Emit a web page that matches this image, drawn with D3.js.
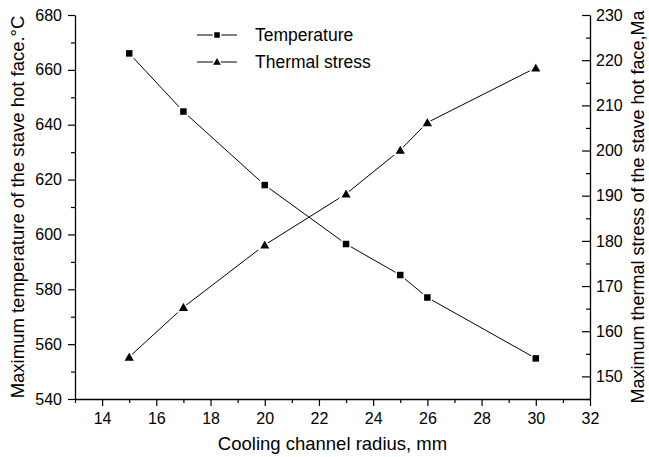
<!DOCTYPE html>
<html lang="en">
<head>
  <meta charset="UTF-8" />
  <script src="https://d3js.org/d3.v7.min.js"></script>
  <title>Cooling channel radius</title>
  <style>
    body { margin: 0; background: #fff; }
    text { font-family: Arial, "Liberation Sans", sans-serif; fill: #000; }
  </style>
</head>
<body>
<script type="text/javascript">
	// data
	var radius = [15, 17, 20, 23, 25, 26, 30];
	var temperature = [666, 644.8, 618, 596.5, 585.2, 577, 554.8];
	var stress = [154.3, 165.3, 179.1, 190.4, 200.1, 206.2, 218.3];
	var xTicks = [14, 16, 18, 20, 22, 24, 26, 28, 30, 32];
	var yLeftTicks = [540, 560, 580, 600, 620, 640, 660, 680];
	var yRightTicks = [150, 160, 170, 180, 190, 200, 210, 220, 230];
	var legendNames = ["Temperature", "Thermal stress"];

	var width = 649; var height = 457;
	var pLeft = 75, pRight = 590, pTop = 15, pBottom = 399;

	var svg = d3.select("body").append("svg").attr("width", width).attr("height", height);

	var x = d3.scaleLinear().domain([13, 32]).range([pLeft, pRight]);
	var yL = d3.scaleLinear().domain([540, 680]).range([pBottom, pTop]);
	var yR = d3.scaleLinear().domain([145, 230]).range([pBottom, pTop]);

	function styleAxis(g) {
		g.select(".domain").attr("stroke", "#000").attr("stroke-width", 1.3);
		g.selectAll(".tick line").attr("stroke", "#000").attr("stroke-width", 1.2);
		g.selectAll(".tick text").style("font-size", "16px").style("font-family", "Arial, 'Liberation Sans', sans-serif");
	}

	// minor ticks
	var xMinor = d3.range(13, 32, 1).filter(function(v){ return v % 2 == 1; });
	var yLMinor = d3.range(550, 680, 20);
	var yRMinor = d3.range(145, 230, 10);

	function minorStyle(g) {
		g.select(".domain").remove();
		g.selectAll("line").attr("stroke", "#000").attr("stroke-width", 1.2);
	}

	svg.append("g").attr("transform", "translate(0," + pBottom + ")")
		.call(d3.axisBottom(x).tickValues(xMinor).tickSize(4).tickFormat("").tickSizeOuter(0))
		.call(minorStyle);
	svg.append("g").attr("transform", "translate(" + pLeft + ",0)")
		.call(d3.axisLeft(yL).tickValues(yLMinor).tickSize(4).tickFormat("").tickSizeOuter(0))
		.call(minorStyle);
	svg.append("g").attr("transform", "translate(" + pRight + ",0)")
		.call(d3.axisRight(yR).tickValues(yRMinor).tickSize(-4).tickFormat("").tickSizeOuter(0))
		.call(minorStyle);

	// major axes (right one has its ticks pointing inward)
	svg.append("g").attr("transform", "translate(0," + pBottom + ")")
		.call(d3.axisBottom(x).tickValues(xTicks).tickSize(7).tickPadding(7).tickSizeOuter(0))
		.call(styleAxis);
	svg.append("g").attr("transform", "translate(" + pLeft + ",0)")
		.call(d3.axisLeft(yL).tickValues(yLeftTicks).tickSize(7).tickPadding(6).tickSizeOuter(0))
		.call(styleAxis);
	svg.append("g").attr("transform", "translate(" + pRight + ",0)")
		.call(d3.axisRight(yR).tickValues(yRightTicks).tickSize(-8).tickPadding(6).tickSizeOuter(0))
		.call(styleAxis);

	// axis titles
	svg.append("text").attr("x", (pLeft + pRight) / 2).attr("y", 450).attr("text-anchor", "middle")
		.style("font-size", "18.5px").text("Cooling channel radius, mm");
	svg.append("text").attr("transform", "translate(24," + (pTop + pBottom) / 2 + ") rotate(-90)").attr("text-anchor", "middle")
		.style("font-size", "18.5px").text("Maximum temperature of the stave hot face.\u00B0C");
	svg.append("text").attr("transform", "translate(644," + (pTop + pBottom) / 2 + ") rotate(-90)").attr("text-anchor", "middle")
		.style("font-size", "18px").text("Maximum thermal stress of the stave hot face,Ma");

	var tri = d3.symbol().type(d3.symbolTriangle).size(60);
	var triSmall = d3.symbol().type(d3.symbolTriangle).size(45);

	// lines
	var lineT = d3.line().x(function(d, i){ return x(radius[i]); }).y(function(d){ return yL(d); });
	var lineS = d3.line().x(function(d, i){ return x(radius[i]); }).y(function(d){ return yR(d); });
	svg.append("path").datum(temperature).attr("d", lineT).attr("fill", "none").attr("stroke", "#000").attr("stroke-width", 1);
	svg.append("path").datum(stress).attr("d", lineS).attr("fill", "none").attr("stroke", "#000").attr("stroke-width", 1);

	// markers, white halo cuts the line like the original
	svg.selectAll("rect.t").data(temperature).enter().append("rect").attr("class", "t")
		.attr("x", function(d, i){ return x(radius[i]) - 4; }).attr("y", function(d){ return yL(d) - 4; })
		.attr("width", 8).attr("height", 8).attr("fill", "#000").attr("stroke", "#fff").attr("stroke-width", 1.5);
	svg.selectAll("path.s").data(stress).enter().append("path").attr("class", "s")
		.attr("d", tri).attr("transform", function(d, i){ return "translate(" + x(radius[i]) + "," + (yR(d) + 1) + ")"; })
		.attr("fill", "#000").attr("stroke", "#fff").attr("stroke-width", 1.5);

	// legend
	var lg = svg.append("g");
	legendNames.forEach(function(name, i) {
		var ly = 35 + i * 27;
		lg.append("line").attr("x1", 197).attr("x2", 237).attr("y1", ly).attr("y2", ly).attr("stroke", "#000").attr("stroke-width", 1);
		if (i == 0) {
			lg.append("rect").attr("x", 213.5).attr("y", ly - 3.5).attr("width", 7).attr("height", 7)
				.attr("fill", "#000").attr("stroke", "#fff").attr("stroke-width", 1.5);
		} else {
			lg.append("path").attr("d", triSmall).attr("transform", "translate(217," + (ly + 0.5) + ")")
				.attr("fill", "#000").attr("stroke", "#fff").attr("stroke-width", 1.5);
		}
		lg.append("text").attr("x", 255).attr("y", ly + 6).style("font-size", "17.5px").text(name);
	});
</script>
</body>
</html>
